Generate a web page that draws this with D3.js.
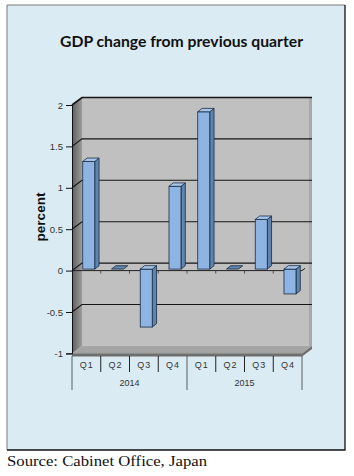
<!DOCTYPE html>
<html><head><meta charset="utf-8">
<script src="https://cdn.jsdelivr.net/npm/d3@7"></script>
<style>body{margin:0;background:#fff}svg{display:block}</style>
</head><body>
<script>
const categories = ["Q1","Q2","Q3","Q4","Q1","Q2","Q3","Q4"];
const years = ["2014","2015"];
const values = [1.3, 0, -0.7, 1.0, 1.9, 0, 0.6, -0.3];
const yTicks = [-1, -0.5, 0, 0.5, 1, 1.5, 2];
const yTickLabels = ["-1","-0.5","0","0.5","1","1.5","2"];

const W = 354, H = 476;
const svg = d3.select("body").append("svg").attr("width", W).attr("height", H);
const defs = svg.append("defs");
const g1 = defs.append("linearGradient").attr("id","sideWall").attr("x1","0").attr("x2","1").attr("y1","0").attr("y2","0");
g1.append("stop").attr("offset","0").attr("stop-color","#5e5e5e");
g1.append("stop").attr("offset","1").attr("stop-color","#9c9c9c");

// panel
svg.append("rect").attr("x",7).attr("y",5).attr("width",338).attr("height",445).attr("fill","#dbebf3");
svg.append("path").attr("d","M7,450 V5 H345").attr("fill","none").attr("stroke","#7a7a7a").attr("stroke-width",1);
svg.append("path").attr("d","M345,5 V450 H7").attr("fill","none").attr("stroke","#111").attr("stroke-width",1.3);

// title
svg.append("text").attr("x",181.5).attr("y",46.5).attr("text-anchor","middle")
  .attr("font-family","Lato, 'Open Sans', sans-serif").attr("font-weight","bold").attr("font-size",16)
  .attr("fill","#111").attr("textLength",243).attr("lengthAdjust","spacingAndGlyphs")
  .text("GDP change from previous quarter");

const x = d3.scaleBand().domain(d3.range(categories.length)).range([72, 302]);
const y = d3.scaleLinear().domain([-1, 2]).range([353.4, 105]);
const DX = 10, DY = -7.5;
const x0 = 72, x1 = 302;

// side wall
svg.append("polygon").attr("points", [[x0,y(2)],[x0+DX,y(2)+DY],[x0+DX,y(-1)+DY],[x0,y(-1)]].map(p=>p.join(",")).join(" "))
  .attr("fill","url(#sideWall)");
// back wall
svg.append("rect").attr("x",x0+DX).attr("y",y(2)+DY).attr("width",x1-x0).attr("height",y(-1)-y(2))
  .attr("fill","#c0c0c0");
svg.append("rect").attr("x",x1+DX-3).attr("y",y(2)+DY).attr("width",3).attr("height",y(-1)-y(2))
  .attr("fill","#a8a8a8");
// gridlines
yTicks.forEach(t => {
  if (t === -1) return;
  const yy = y(t);
  svg.append("path").attr("d",`M${x0},${yy} L${x0+DX},${yy+DY} H${x1+DX}`)
    .attr("fill","none").attr("stroke","#151515").attr("stroke-width", t===2?1.6:1.1);
});

// floor
svg.append("polygon").attr("points", [[x0,y(-1)],[x1,y(-1)],[x1+DX,y(-1)+DY],[x0+DX,y(-1)+DY]].map(p=>p.join(",")).join(" "))
  .attr("fill","#a4a4a4");
svg.append("polygon").attr("points", [[x0,y(-1)],[x1,y(-1)],[x1+DX,y(-1)+DY],[x1+DX,y(-1)+DY+3],[x1,y(-1)+3],[x0,y(-1)+3]].map(p=>p.join(",")).join(" "))
  .attr("fill","#6e6e6e");
svg.append("line").attr("x1",x0).attr("x2",x1).attr("y1",y(-1)).attr("y2",y(-1)).attr("stroke","#8a8a8a").attr("stroke-width",0.8);

// category (zero) axis line with ticks
svg.append("path").attr("d",`M${x0},${y(0)} H${x1} L${x1+DX*0.3},${y(0)+DY*0.3}`).attr("fill","none").attr("stroke","#222").attr("stroke-width",1);
x.domain().forEach(i => {
  if (i===0) return;
  svg.append("line").attr("x1",x(i)).attr("x2",x(i)).attr("y1",y(0)).attr("y2",y(0)+3).attr("stroke","#333").attr("stroke-width",0.8);
});

// bars
const bw = 12, bOff = 10.75, ddx = 4.3, ddy = -3.4, shift = -1.5;
const bars = svg.append("g");
values.forEach((v,i) => {
  const fx = x(i) + bOff;
  const yb = y(0) + shift, yv = y(v) + shift;
  const yt = Math.min(yb, yv), ybot = Math.max(yb, yv);
  const st = "#1b2b44";
  if (ybot - yt > 0.5) {
    bars.append("polygon").attr("points",[[fx+bw,yt],[fx+bw+ddx,yt+ddy],[fx+bw+ddx,ybot+ddy],[fx+bw,ybot]].map(p=>p.join(",")).join(" "))
      .attr("fill","#5f84ad").attr("stroke",st).attr("stroke-width",0.8).attr("stroke-linejoin","round");
    bars.append("rect").attr("x",fx).attr("y",yt).attr("width",bw).attr("height",ybot-yt)
      .attr("fill","#8db4e3").attr("stroke",st).attr("stroke-width",0.8);
  }
  bars.append("polygon").attr("points",[[fx,yt],[fx+bw,yt],[fx+bw+ddx,yt+ddy],[fx+ddx,yt+ddy]].map(p=>p.join(",")).join(" "))
    .attr("fill", (ybot-yt>0.5)?"#a9c7ec":"#5f84ad").attr("stroke",st).attr("stroke-width",0.8).attr("stroke-linejoin","round");
});

// y axis
const yAxis = d3.axisLeft(y).tickValues(yTicks).tickFormat((d,i)=>yTickLabels[i]).tickSize(6).tickPadding(3);
const ga = svg.append("g").attr("transform",`translate(${x0},0)`).call(yAxis);
ga.select(".domain").attr("stroke","#111").attr("stroke-width",1);
ga.selectAll(".tick line").attr("stroke","#111");
ga.selectAll(".tick text").attr("font-family","Arial, 'Liberation Sans', sans-serif").attr("font-size",9.5).attr("fill","#333");

// y title
svg.append("text").attr("transform","translate(45,217) rotate(-90)").attr("text-anchor","middle")
  .attr("font-family","Arial, 'Liberation Sans', sans-serif").attr("font-weight","bold").attr("font-size",13.5)
  .attr("fill","#111").text("percent");

// category labels
const lab = svg.append("g").attr("font-family","Arial, 'Liberation Sans', sans-serif").attr("fill","#333");
categories.forEach((c,i) => {
  lab.append("text").attr("x",x(i)+x.bandwidth()/2+0.5).attr("y",367.5).attr("text-anchor","middle")
    .attr("font-size",9).attr("letter-spacing",1).text(c);
});
d3.range(categories.length+1).forEach(i => {
  const xx = x0 + i*x.bandwidth();
  const isGroup = i % 4 === 0;
  svg.append("line").attr("x1",xx).attr("x2",xx).attr("y1",356).attr("y2",isGroup?390:372)
    .attr("stroke","#222").attr("stroke-width",isGroup?0.7:1);
});
years.forEach((yr,j) => {
  const cx = x0 + (j*4+2)*x.bandwidth();
  lab.append("text").attr("x",cx).attr("y",386).attr("text-anchor","middle").attr("font-size",9).text(yr);
});

// source
svg.append("text").attr("x",7).attr("y",466).attr("font-family","'Liberation Serif', 'Times New Roman', serif")
  .attr("font-size",14.5).attr("fill","#111").attr("textLength",200).attr("lengthAdjust","spacingAndGlyphs")
  .text("Source: Cabinet Office, Japan");
</script>
</body></html>
